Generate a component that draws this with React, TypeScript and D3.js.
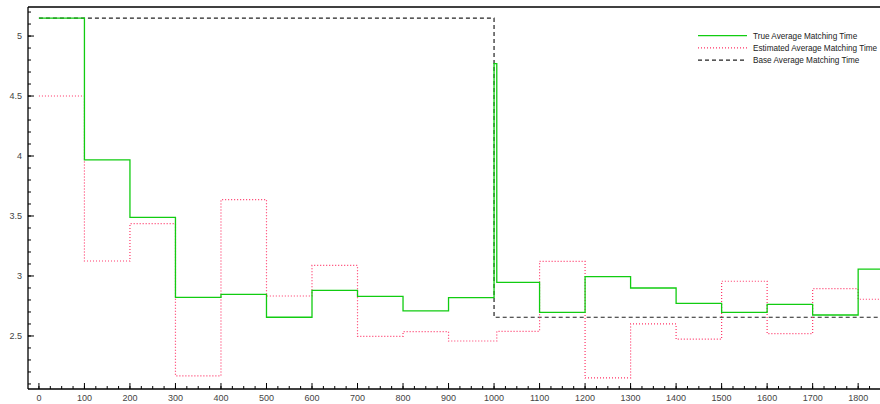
import { scaleLinear, line, curveStepAfter, range } from 'd3'
import { useEffect } from 'react'

const width = 880
const height = 404

const plotLeft = 28
const plotRight = 880
const plotTop = 7
const plotBottom = 389

// step start positions (matching time windows)
const steps = [0, 100, 200, 300, 400, 500, 600, 700, 800, 900, 1000, 1006, 1100, 1200, 1300, 1400, 1500, 1600, 1700, 1800]
const xEnd = 1848

const trueValues = [5.15, 3.967, 3.489, 2.822, 2.847, 2.656, 2.88, 2.83, 2.71, 2.82, 4.77, 2.947, 2.697, 2.994, 2.9, 2.772, 2.697, 2.764, 2.675, 3.058]
const estimatedValues = [4.5, 3.125, 3.436, 2.167, 3.636, 2.833, 3.088, 2.497, 2.536, 2.458, 2.458, 2.539, 3.122, 2.15, 2.6, 2.473, 2.956, 2.519, 2.894, 2.806]
const baseValues = [5.15, 5.15, 5.15, 5.15, 5.15, 5.15, 5.15, 5.15, 5.15, 5.15, 2.656, 2.656, 2.656, 2.656, 2.656, 2.656, 2.656, 2.656, 2.656, 2.656]

const xTicks = range(0, 1801, 100)
const xMinorTicks = range(0, 1849, 25)
const yTicks = [2.5, 3, 3.5, 4, 4.5, 5]
const yMinorTicks = range(21, 53, 1).map((d) => d / 10)

const series = [
  { name: 'True Average Matching Time', values: trueValues, color: '#11cc11', dash: null, width: 1.3 },
  { name: 'Estimated Average Matching Time', values: estimatedValues, color: '#ff3366', dash: '1,2', width: 1.2 },
  { name: 'Base Average Matching Time', values: baseValues, color: '#222222', dash: '4,3', width: 1.2 },
]

const xScale = scaleLinear().domain([-24, 1848]).range([plotLeft, plotRight])
const yScale = scaleLinear().domain([2.058, 5.242]).range([plotBottom, plotTop])

const stepLine = line<[number, number]>()
  .x((d) => xScale(d[0]))
  .y((d) => yScale(d[1]))
  .curve(curveStepAfter)

const App = () => {
  const labelColor = '#444'
  const font = '"Liberation Sans", Arial, sans-serif'

  useEffect(() => {
    document.body.style.margin = '0'
    document.body.style.overflow = 'hidden'
  }, [])

  return (
    <div style={{ position: 'fixed', left: 0, top: 0, width, height, overflow: 'hidden' }}>
      <svg width={width} height={height} style={{ display: 'block', background: '#fff' }}>
        <defs>
          <clipPath id="plot">
            <rect x={plotLeft} y={plotTop} width={plotRight - plotLeft} height={plotBottom - plotTop} />
          </clipPath>
        </defs>

        <g clipPath="url(#plot)">
          {series
            .slice()
            .reverse()
            .map((s) => {
              const pts: [number, number][] = steps.map((x, i) => [x, s.values[i]])
              pts.push([xEnd, s.values[s.values.length - 1]])
              return (
                <path
                  key={s.name}
                  d={stepLine(pts) || ''}
                  fill="none"
                  stroke={s.color}
                  strokeWidth={s.width}
                  strokeDasharray={s.dash || undefined}
                />
              )
            })}
        </g>

        {/* frame */}
        <line x1={plotLeft} x2={plotRight} y1={plotTop} y2={plotTop} stroke="#000" strokeWidth={1.3} />
        <line x1={plotLeft} x2={plotLeft} y1={plotTop} y2={plotBottom} stroke="#000" strokeWidth={1.3} />
        <line x1={plotLeft} x2={plotRight} y1={plotBottom} y2={plotBottom} stroke="#000" strokeWidth={1.6} />

        {/* x ticks */}
        {xMinorTicks.map((t) => (
          <line key={'xm' + t} x1={xScale(t)} x2={xScale(t)} y1={plotBottom} y2={plotBottom - 3} stroke="#000" strokeWidth={1} />
        ))}
        {xTicks.map((t) => (
          <g key={'x' + t}>
            <line x1={xScale(t)} x2={xScale(t)} y1={plotBottom} y2={plotBottom - 6} stroke="#000" strokeWidth={1} />
            <text x={xScale(t)} y={401} textAnchor="middle" fontSize={9} fontFamily={font} fill={labelColor}>
              {t}
            </text>
          </g>
        ))}

        {/* y ticks */}
        {yMinorTicks.map((t) => (
          <line key={'ym' + t} x1={plotLeft} x2={plotLeft + 3} y1={yScale(t)} y2={yScale(t)} stroke="#000" strokeWidth={1} />
        ))}
        {yTicks.map((t) => (
          <g key={'y' + t}>
            <line x1={plotLeft} x2={plotLeft + 6} y1={yScale(t)} y2={yScale(t)} stroke="#000" strokeWidth={1} />
            <text x={22} y={yScale(t) + 3} textAnchor="end" fontSize={9} fontFamily={font} fill={labelColor}>
              {t}
            </text>
          </g>
        ))}

        {/* legend */}
        {series.map((s, i) => (
          <g key={'lg' + s.name} transform={`translate(698, ${35.7 + i * 12.2})`}>
            <line x1={0} x2={49} y1={0} y2={0} stroke={s.color} strokeWidth={s.width} strokeDasharray={s.dash || undefined} />
            <text x={55} y={3} fontSize={8.2} fontFamily={font} fill="#222">
              {s.name}
            </text>
          </g>
        ))}
      </svg>
    </div>
  )
}

export default App
